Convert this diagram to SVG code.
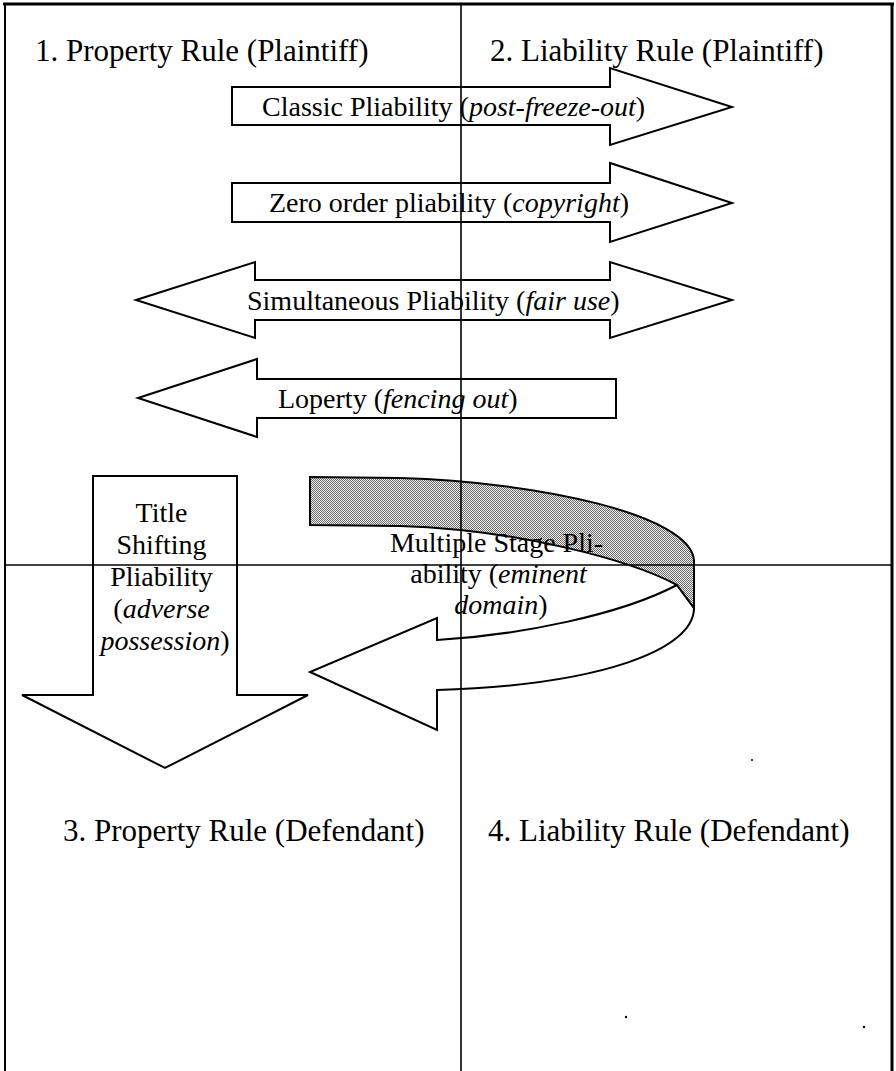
<svg xmlns="http://www.w3.org/2000/svg" width="896" height="1071" viewBox="0 0 896 1071">
<style>
text{font-family:"Liberation Serif","Times New Roman",serif;font-size:28px;fill:#000}
.q{font-size:31px}
.i{font-style:italic}
.shape{fill:#fff;stroke:#000;stroke-width:2;stroke-linejoin:miter}
.grid{stroke:#000;stroke-width:1.6;fill:none}
</style>
<defs>
<pattern id="dots" width="2" height="2" patternUnits="userSpaceOnUse">
<rect width="2" height="2" fill="#f0f0f0"/>
<rect width="1" height="1" fill="#6a6a6a"/>
<rect x="1" y="1" width="1" height="1" fill="#6a6a6a"/>
</pattern>
</defs>
<rect width="896" height="1071" fill="#fff"/>

<g id="frame">
<line x1="3" y1="4" x2="894" y2="4" stroke="#000" stroke-width="3"/>
<line x1="5" y1="3" x2="5" y2="1071" stroke="#000" stroke-width="2"/>
<line x1="892" y1="3" x2="892" y2="1071" stroke="#000" stroke-width="3"/>
</g>

<g id="q1"><text class="q" x="35" y="61">1. Property Rule (Plaintiff)</text></g>
<g id="q2"><text class="q" x="490" y="61">2. Liability Rule (Plaintiff)</text></g>
<g id="q3"><text class="q" x="63" y="841">3. Property Rule (Defendant)</text></g>
<g id="q4"><text class="q" x="488" y="841">4. Liability Rule (Defendant)</text></g>

<g id="classic">
<path class="shape" d="M232,87 L610,87 L610,68 L732,107 L610,145 L610,125 L232,125 Z"/>
<text x="262" y="116">Classic Pliability (<tspan class="i">post-freeze-out</tspan>)</text>
</g>

<g id="zero">
<path class="shape" d="M232,183 L610,183 L610,163 L732,203 L610,242 L610,222 L232,222 Z"/>
<text x="269" y="212">Zero order pliability (<tspan class="i">copyright</tspan>)</text>
</g>

<g id="simultaneous">
<path class="shape" d="M136,300 L255,262 L255,280 L610,280 L610,262 L732,300 L610,338 L610,320 L255,320 L255,338 Z"/>
<text x="247" y="310">Simultaneous Pliability (<tspan class="i">fair use</tspan>)</text>
</g>

<g id="loperty">
<path class="shape" d="M138,398 L257,359 L257,379 L616,379 L616,418 L257,418 L257,437 Z"/>
<text x="278" y="408">Loperty (<tspan class="i">fencing out</tspan>)</text>
</g>

<g id="title-shifting">
<path class="shape" d="M93,476 L237,476 L237,695 L308,695 L165,768 L22,695 L93,695 Z"/>
<text text-anchor="middle">
<tspan x="165" y="522">Title</tspan>
<tspan x="165" y="554">Shifting</tspan>
<tspan x="165" y="586">Pliability</tspan>
<tspan x="165" y="618">(<tspan class="i">adverse</tspan></tspan>
<tspan x="165" y="650"><tspan class="i">possession</tspan>)</tspan>
</text>
</g>

<g id="multiple-stage">
<path class="shape" d="M437,640 C520,635 620,615 677,585 L694,608 C694,650 600,685 437,690 L437,730 L310,672 L437,618 Z"/>
<path fill="url(#dots)" stroke="#000" stroke-width="2" d="M310,477 L400,478 C540,482 690,515 694,560 L694,608 L677,585 C630,560 520,530 400,526 L310,525 Z"/>
<text text-anchor="middle">
<tspan x="500" y="552">Multiple Stage Pli-</tspan>
<tspan x="502" y="583">ability (<tspan class="i">eminent</tspan></tspan>
<tspan x="501" y="614"><tspan class="i">domain</tspan>)</tspan>
</text>
</g>

<g id="connectors">
<line class="grid" x1="461" y1="4" x2="461" y2="1071"/>
<line class="grid" x1="5" y1="565" x2="892" y2="565"/>
</g>

<g id="specks" fill="#000">
<circle cx="626" cy="1017" r="1.2"/>
<circle cx="864" cy="1027" r="1.2"/>
<circle cx="752" cy="760" r="1"/>
</g>
</svg>
